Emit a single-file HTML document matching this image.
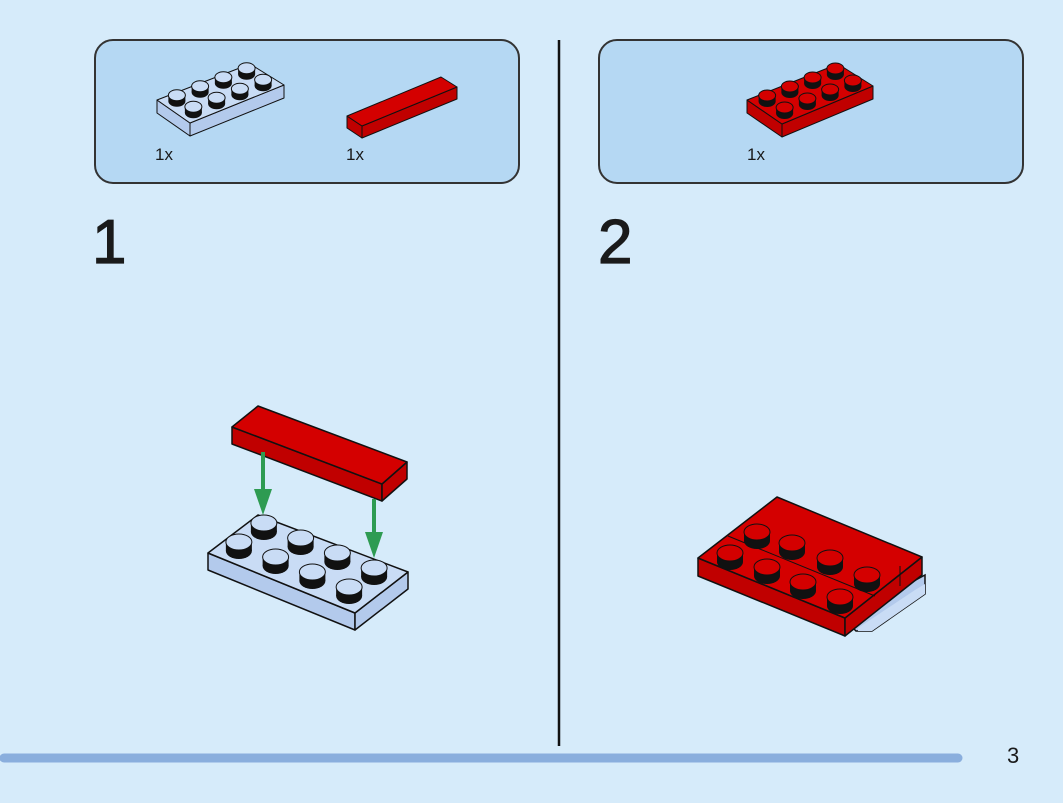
<!DOCTYPE html>
<html><head><meta charset="utf-8"><style>
html,body{margin:0;padding:0;background:#d6ebfa;}
svg{display:block}
text{font-family:"Liberation Sans",sans-serif;fill:#1a1a1a}
</style></head><body>
<svg id="s" width="1063" height="803" viewBox="0 0 1063 803" xmlns="http://www.w3.org/2000/svg">
<rect width="1063" height="803" fill="#d6ebfa"/>
<rect x="95" y="40" width="424" height="143" rx="18" fill="#b5d8f3" stroke="#333" stroke-width="2"/>
<rect x="599" y="40" width="424" height="143" rx="18" fill="#b5d8f3" stroke="#333" stroke-width="2"/>
<line x1="559" y1="40" x2="559" y2="746" stroke="#111" stroke-width="2.5"/>
<line x1="4" y1="758" x2="958" y2="758" stroke="#8aaedd" stroke-width="9" stroke-linecap="round"/>
<text x="155" y="160" font-size="17">1x</text>
<text x="346" y="160" font-size="17">1x</text>
<text x="747" y="160" font-size="17">1x</text>
<text x="92" y="263" font-size="62" stroke="#1a1a1a" stroke-width="1.2">1</text>
<text x="598" y="263" font-size="62" stroke="#1a1a1a" stroke-width="1.2">2</text>
<text x="1007" y="763" font-size="22">3</text>
<g id="g"></g>
</svg>
<script>
var g=document.getElementById('g'),NS='http://www.w3.org/2000/svg';
function el(t,a){var e=document.createElementNS(NS,t);for(var k in a)e.setAttribute(k,a[k]);g.appendChild(e);return e;}
function pts(a){return a.map(function(p){return p[0]+','+p[1]}).join(' ');}
function plate(L,T,R,F,h,top,side,sw){
 var d=function(p){return [p[0],p[1]+h]};
 el('polygon',{points:pts([L,F,d(F),d(L)]),fill:side,stroke:'#111','stroke-width':sw,'stroke-linejoin':'round'});
 el('polygon',{points:pts([F,R,d(R),d(F)]),fill:side,stroke:'#111','stroke-width':sw,'stroke-linejoin':'round'});
 el('polygon',{points:pts([L,T,R,F]),fill:top,stroke:'#111','stroke-width':sw,'stroke-linejoin':'round'});
}
function stud(cx,cy,rx,ry,hh,top){
 el('ellipse',{cx:cx,cy:cy+hh,rx:rx,ry:ry,fill:'#111'});
 el('rect',{x:cx-rx,y:cy,width:2*rx,height:hh,fill:'#111'});
 el('ellipse',{cx:cx,cy:cy,rx:rx,ry:ry,fill:top,stroke:'#111','stroke-width':1});
}
function studs(L,A,B,rx,ry,hh,top,vmax){
 var list=[];vmax=vmax||1;
 for(var j=0;j<2;j++)for(var i=0;i<4;i++){
  var u=(i+.5)/4,v=(j+.5)/2*vmax;
  list.push([L[0]+A[0]*u+B[0]*v,L[1]+A[1]*u+B[1]*v-hh]);
 }
 list.sort(function(a,b){return a[1]-b[1]});
 list.forEach(function(p){stud(p[0],p[1],rx,ry,hh,top)});
}
var BT='#c9dcf5',BS='#b3caec',RT='#d40000',RS='#c00000';
plate([157,100],[250,64],[284,85],[190,123],13,BT,BS,1);
studs([157,100],[93,-36],[33,23],8.5,5.5,6,BT);
plate([347,116],[441,77],[457,87],[362,126],12,RT,RS,1);
plate([747,100],[838,64],[873,86],[782,124],13,RT,RS,1);
studs([747,100],[91,-36],[35,24],8.5,5.5,6,RT);
plate([208,553],[258,515],[408,572],[355,613],17,BT,BS,1.5);
studs([208,553],[147,60],[50,-38],13,8,9,BT);
plate([232,427],[258,406],[407,462],[382,484],17,RT,RS,1.5);
function arrow(x,y1,y2){
 el('line',{x1:x,y1:y1,x2:x,y2:y2-18,stroke:'#2e9b52','stroke-width':4});
 el('polygon',{points:pts([[x-9,y2-26],[x+9,y2-26],[x,y2]]),fill:'#2e9b52'});
}
arrow(263,452,515);
arrow(374,499,558);
el('polygon',{points:pts([[850,625],[912,582],[925,575],[925,594],[872,631],[856,631]]),fill:BS,stroke:'#111','stroke-width':1.5});
el('polygon',{points:pts([[858,628],[915,590],[925,584],[925,594],[872,631],[858,631]]),fill:BT,stroke:'none'});
plate([698,558],[777,497],[922,557],[845,618],18,RT,RS,1.5);
el('polyline',{points:pts([[728,536],[875,596]]),fill:'none',stroke:'#111','stroke-width':1});
el('polyline',{points:pts([[900,566],[900,586]]),fill:'none',stroke:'#111','stroke-width':1});
var s2=[[757,532],[792,543],[830,558],[867,575],[730,553],[767,567],[803,582],[840,597]];
s2.forEach(function(p){stud(p[0],p[1],13,8,9,RT)});
</script>
</body></html>
